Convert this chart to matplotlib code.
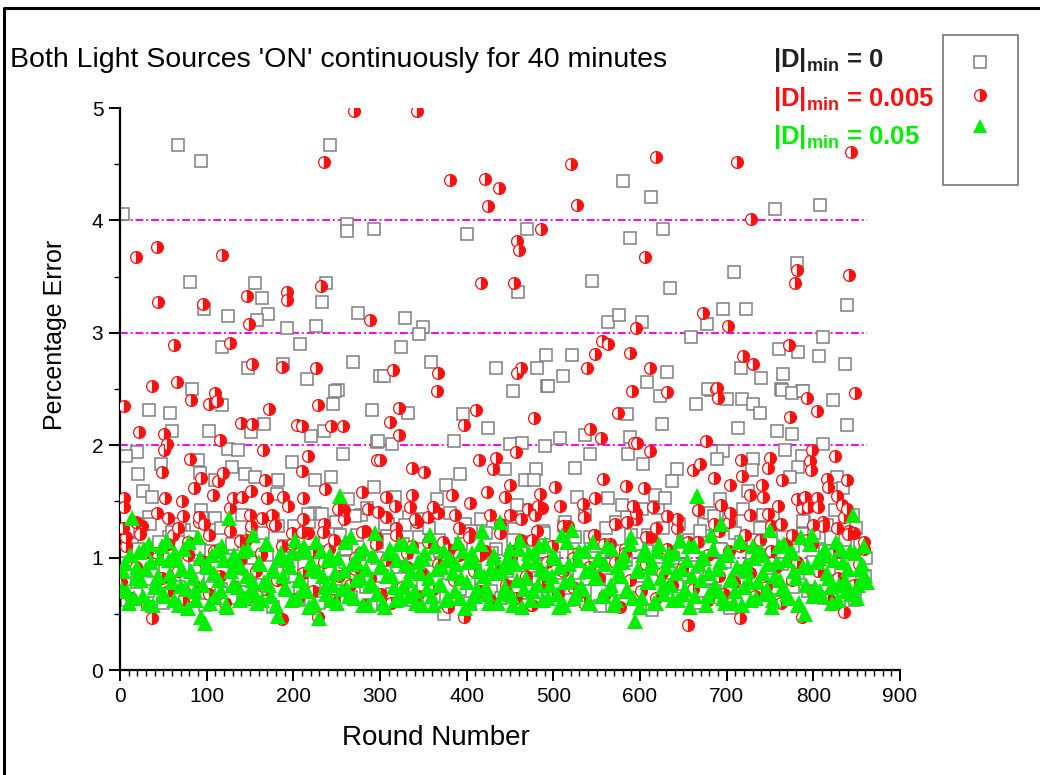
import numpy as np
import matplotlib
matplotlib.use("Agg")
import matplotlib.pyplot as plt
from matplotlib.lines import Line2D
from matplotlib.patches import Rectangle

plt.rcParams['font.family'] = ['Liberation Sans', 'DejaVu Sans']
plt.rcParams['mathtext.fontset'] = 'custom'
plt.rcParams['mathtext.rm'] = 'Liberation Sans'
plt.rcParams['mathtext.bf'] = 'Liberation Sans:bold'

# ---- data ----
# |D|min = 0 (grey squares): scattered points above the band (round, % error)
sq_x = [67, 93, 242, 4, 262, 262, 293, 81, 156, 164, 238, 233, 97, 125, 171, 158, 275, 193, 226, 118, 208,
        148, 188, 269, 216, 83, 251, 300,
        580, 400, 470, 589, 545, 459, 329, 350, 345, 563, 576, 324, 359, 305, 434, 492, 522, 481, 511, 453, 493,
        613, 756, 808, 626, 781, 708, 635, 696, 722, 677, 839, 602, 659, 811, 760, 782, 806, 836, 631, 717, 740,
        765, 608, 682, 763, 787,
        33, 58, 118, 103, 60, 166, 151, 248, 246, 291, 220, 235, 20, 7, 125, 136, 198, 257, 297, 21, 47, 90, 92,
        110, 129, 144, 156, 182, 225, 243, 27, 37, 181, 217, 233, 263, 271, 293, 60, 35, 95,
        494, 332, 396, 425, 585, 298, 314, 385, 450, 464, 490, 508, 537, 589, 444, 480, 525, 542, 586, 392, 376,
        467, 478, 527, 563, 579, 458, 366, 317, 306, 329,
        623, 665, 678, 700, 718, 730, 738, 764, 775, 788, 823, 625, 713, 758, 775, 839, 811, 696, 689, 730, 767,
        787, 603, 643, 637, 729, 782, 827, 834, 773, 617, 629, 602, 692, 725, 719, 742, 788, 816, 846, 685, 703, 738]
sq_y = [4.67, 4.53, 4.67, 4.06, 3.97, 3.91, 3.92, 3.45, 3.44, 3.31, 3.44, 3.27, 3.21, 3.15, 3.17, 3.11, 3.18,
        3.04, 3.06, 2.87, 2.90, 2.69, 2.72, 2.74, 2.59, 2.50, 2.49, 2.62,
        4.35, 3.88, 3.92, 3.84, 3.46, 3.36, 3.13, 3.05, 2.99, 3.10, 3.16, 2.87, 2.74, 2.62, 2.69, 2.80, 2.80,
        2.69, 2.62, 2.48, 2.53,
        4.21, 4.10, 4.14, 3.92, 3.62, 3.54, 3.40, 3.21, 3.21, 3.08, 3.25, 3.10, 2.96, 2.96, 2.86, 2.83, 2.79,
        2.72, 2.65, 2.69, 2.60, 2.63, 2.56, 2.49, 2.50, 2.48,
        2.31, 2.29, 2.36, 2.13, 2.13, 2.19, 2.12, 2.48, 2.37, 2.31, 2.08, 2.13, 1.94, 1.90, 1.97, 1.96, 1.85,
        1.92, 2.03, 1.74, 1.83, 1.87, 1.75, 1.69, 1.81, 1.74, 1.72, 1.69, 1.69, 1.72, 1.59, 1.54, 1.57, 1.39,
        1.39, 1.52, 1.37, 1.63, 1.23, 1.30, 1.35,
        2.53, 2.29, 2.28, 2.15, 2.28, 2.04, 2.01, 2.04, 2.01, 2.02, 1.99, 2.06, 2.09, 2.07, 1.79, 1.79, 1.80,
        1.92, 1.92, 1.74, 1.65, 1.69, 1.69, 1.54, 1.53, 1.47, 1.47, 1.52, 1.54, 1.30, 1.29,
        2.44, 2.37, 2.50, 2.41, 2.41, 2.37, 2.29, 2.49, 2.46, 2.48, 2.40, 2.19, 2.15, 2.13, 2.10, 2.18, 2.01,
        1.95, 1.88, 1.88, 1.96, 1.90, 1.83, 1.79, 1.68, 1.78, 1.81, 1.72, 1.62, 1.72, 1.56, 1.53, 1.43, 1.52,
        1.59, 1.43, 1.38, 1.33, 1.29, 1.38, 1.37, 1.35, 1.26]
# grey squares inside the dense band, every 6th round from round 2
sq_band = [0.95, 0.62, 1.12, 0.78, 1.30, 0.70, 0.88, 1.05, 0.60, 1.18, 0.82, 0.74,
           1.25, 0.66, 0.92, 1.08, 0.58, 0.84, 1.35, 0.72, 0.98, 0.64, 1.15, 0.80,
           0.90, 1.22, 0.68, 0.76, 1.02, 0.56, 1.28, 0.86, 0.73, 1.10, 0.62, 0.94,
           1.32, 0.78, 0.60, 1.06, 0.88, 0.70, 1.20, 0.96, 0.65, 0.82, 1.38, 0.74,
           0.58, 1.00, 0.84, 1.26, 0.68, 0.92, 1.12, 0.62, 0.80, 1.34, 0.76, 0.98,
           0.66, 1.16, 0.50, 0.86, 1.04, 0.72, 1.30, 0.60, 0.94, 0.78, 1.22, 0.70,
           1.08, 0.64, 0.88, 1.36, 0.74, 0.96, 0.58, 1.14, 0.82, 1.24, 0.68, 0.90,
           0.76, 1.28, 0.62, 1.02, 0.86, 0.70, 1.18, 0.94, 0.57, 1.10, 0.80, 1.32,
           0.72, 0.98, 1.20, 0.64, 0.84, 1.06, 0.53, 0.90, 1.26, 0.76, 1.00, 0.66,
           1.14, 0.74, 0.92, 0.60, 1.30, 0.82, 0.70, 1.08, 0.96, 0.55, 1.22, 0.78,
           0.88, 1.16, 0.68, 1.02, 0.80, 1.34, 0.62, 0.94, 1.10, 0.74, 0.86, 1.24,
           0.70, 0.96, 1.18, 0.64, 0.90, 1.06, 0.60, 1.28, 0.78, 0.62, 1.12, 0.84]
# grey squares on the upper fringe of the band, every 12th round from round 9
sq_fringe = [1.24, 1.08, 1.36, 1.14, 1.02, 1.30, 1.18, 1.42, 1.06, 1.26, 1.12, 1.38,
             1.00, 1.22, 1.34, 1.10, 1.28, 1.04, 1.40, 1.16, 1.32, 1.08, 1.20, 1.44,
             1.14, 1.30, 1.02, 1.36, 1.18, 1.26, 1.06, 1.40, 1.12, 1.24, 1.34, 1.04,
             1.28, 1.16, 1.42, 1.08, 1.22, 1.00, 1.32, 1.18, 1.38, 1.10, 1.26, 1.06,
             1.36, 1.12, 1.20, 1.44, 1.02, 1.30, 1.16, 1.24, 1.40, 1.08, 1.34, 1.14,
             1.04, 1.28, 1.38, 1.18, 1.10, 1.32, 1.22, 1.06, 1.42, 1.16, 1.26, 1.00]

# |D|min = 0.005 (red half-filled circles)
ci_x = [270, 235, 18, 43, 118, 44, 96, 146, 193, 193, 232, 149, 288, 62, 127, 152, 187, 226, 37, 66, 110,
        343, 520, 381, 421, 437, 425, 527, 486, 458, 460, 416, 455, 595, 556, 563, 548, 588, 315, 367, 366, 463,
        458, 539, 591,
        618, 712, 843, 728, 606, 781, 779, 841, 673, 702, 772, 719, 730, 612, 631, 688, 848,
        5, 82, 103, 112, 172, 228, 22, 51, 54, 51, 140, 152, 204, 210, 243, 257, 115, 165, 81, 217, 297, 48, 93,
        119, 113, 210, 167, 85, 107, 151, 237, 279, 5, 5, 52, 72, 130, 141, 170, 188, 194, 211, 252, 286, 55, 73,
        97, 150, 164, 179, 210, 234, 279, 3, 23,
        322, 312, 322, 411, 397, 478, 575, 542, 555, 593, 300, 337, 351, 414, 434, 430, 457, 450, 423, 444, 502,
        485, 557, 584, 307, 337, 383, 404, 361, 386, 450, 482, 534, 548, 508, 298, 317, 335, 340, 585, 592, 471, 479,
        689, 690, 793, 804, 773, 597, 676, 612, 798, 825, 717, 750, 748, 796, 797, 669, 661, 685, 704, 718, 764,
        741, 727, 742, 816, 817, 839, 827, 804, 790, 605, 615, 631, 667, 693, 704, 748, 759, 781, 794, 805, 833,
        839, 800, 827, 840]
ci_y = [4.97, 4.52, 3.67, 3.76, 3.69, 3.27, 3.26, 3.33, 3.36, 3.29, 3.42, 3.08, 3.11, 2.89, 2.91, 2.72, 2.70,
        2.69, 2.53, 2.56, 2.46,
        4.97, 4.50, 4.36, 4.37, 4.29, 4.13, 4.14, 3.92, 3.82, 3.74, 3.44, 3.44, 3.04, 2.93, 2.90, 2.81, 2.82,
        2.67, 2.64, 2.48, 2.69, 2.64, 2.69, 2.48,
        4.56, 4.52, 4.61, 4.01, 3.67, 3.56, 3.44, 3.51, 3.18, 3.06, 2.89, 2.79, 2.72, 2.69, 2.47, 2.50, 2.46,
        2.35, 2.40, 2.37, 2.39, 2.32, 2.36, 2.12, 2.10, 2.01, 1.96, 2.20, 2.19, 2.18, 2.17, 2.17, 2.17, 2.05,
        1.96, 1.88, 1.90, 1.87, 1.76, 1.71, 1.75, 1.68, 1.77, 1.69, 1.62, 1.56, 1.59, 1.61, 1.58, 1.53, 1.45,
        1.53, 1.50, 1.53, 1.54, 1.53, 1.54, 1.46, 1.53, 1.43, 1.43, 1.35, 1.37, 1.30, 1.38, 1.35, 1.29, 1.23,
        1.23, 1.23, 1.26, 1.21,
        2.33, 2.21, 2.09, 2.31, 2.18, 2.24, 2.29, 2.14, 2.06, 2.02, 1.87, 1.80, 1.76, 1.87, 1.89, 1.79, 1.94,
        1.65, 1.58, 1.54, 1.63, 1.57, 1.70, 1.64, 1.54, 1.56, 1.56, 1.49, 1.45, 1.38, 1.38, 1.46, 1.48, 1.53,
        1.46, 1.41, 1.46, 1.45, 1.34, 1.32, 1.46, 1.43, 1.38,
        2.51, 2.42, 2.42, 2.30, 2.25, 2.02, 2.04, 1.95, 1.96, 1.90, 1.87, 1.89, 1.80, 1.86, 1.78, 1.83, 1.78,
        1.71, 1.65, 1.73, 1.69, 1.65, 1.56, 1.54, 1.70, 1.63, 1.69, 1.55, 1.53, 1.54, 1.62, 1.45, 1.37, 1.42,
        1.47, 1.40, 1.39, 1.46, 1.52, 1.45, 1.45, 1.47, 1.43, 1.29, 1.26, 1.21]
# red circles inside the dense band, every 6th round from round 1
ci_band = [0.78, 1.10, 0.64, 0.92, 1.28, 0.58, 0.46, 1.04, 0.82, 0.70, 1.20, 0.88,
           0.62, 1.14, 0.76, 1.32, 0.96, 0.68, 1.06, 0.84, 0.60, 1.24, 0.74, 0.98,
           1.16, 0.66, 0.88, 1.02, 0.72, 1.30, 0.80, 0.45, 0.94, 1.12, 0.64, 0.86,
           1.22, 0.70, 0.47, 0.96, 1.08, 0.62, 0.84, 1.34, 0.76, 0.90, 1.04, 0.58,
           0.82, 1.18, 0.68, 0.98, 0.60, 1.26, 0.74, 0.92, 1.10, 0.66, 0.86, 1.36,
           0.72, 0.94, 1.14, 0.56, 0.80, 1.02, 0.47, 1.22, 0.88, 0.70, 1.06, 0.62,
           0.90, 1.30, 0.76, 1.00, 0.64, 1.16, 0.84, 0.58, 1.24, 0.78, 0.96, 1.10,
           0.68, 0.88, 1.28, 0.74, 1.04, 0.60, 0.92, 1.20, 0.82, 0.66, 1.12, 0.96,
           0.56, 1.08, 0.80, 1.34, 0.70, 0.94, 1.18, 0.64, 0.86, 1.02, 0.76, 1.26,
           0.90, 0.40, 0.72, 1.14, 0.98, 0.62, 1.30, 0.84, 0.68, 1.06, 0.78, 0.46,
           1.20, 0.86, 0.66, 1.02, 0.74, 1.28, 0.92, 0.60, 1.12, 0.80, 0.96, 0.47,
           1.16, 0.70, 0.88, 1.32, 0.64, 1.04, 0.82, 0.52, 1.24, 0.76, 0.94, 1.08]
# red circles on the upper fringe of the band, every 12th round from round 7
ci_fringe = [1.18, 1.32, 1.05, 1.40, 1.12, 1.26, 1.02, 1.36, 1.20, 1.08, 1.44, 1.15,
             1.28, 1.04, 1.38, 1.10, 1.22, 1.34, 1.06, 1.30, 1.16, 1.42, 1.00, 1.24,
             1.12, 1.36, 1.20, 1.04, 1.32, 1.14, 1.40, 1.08, 1.26, 1.18, 1.02, 1.38,
             1.22, 1.06, 1.34, 1.16, 1.44, 1.10, 1.28, 1.00, 1.36, 1.20, 1.12, 1.30,
             1.04, 1.40, 1.18, 1.26, 1.08, 1.34, 1.14, 1.42, 1.02, 1.24, 1.32, 1.10,
             1.38, 1.16, 1.06, 1.30, 1.20, 1.44, 1.12, 1.28, 1.04, 1.36, 1.22, 1.14]

# |D|min = 0.05 (green triangles), every 4th round from round 2
tri_a = [0.72, 0.95, 0.60, 1.35, 0.82, 1.05, 0.66, 0.90, 1.12, 0.58, 0.78, 1.00,
         0.68, 1.15, 0.85, 0.62, 0.98, 0.75, 1.08, 0.55, 0.88, 0.70, 1.18, 0.47,
         0.42, 0.92, 1.02, 0.65, 0.80, 1.10, 0.58, 1.35, 0.76, 0.96, 0.62, 1.06,
         0.84, 0.70, 1.20, 0.60, 0.94, 0.78, 1.12, 0.66, 0.88, 0.48, 1.04, 0.74,
         0.98, 0.62, 1.16, 0.80, 0.70, 1.06, 0.56, 0.90, 1.14, 0.46, 0.84, 0.68,
         1.02, 0.76, 0.60, 1.55, 0.88, 0.72, 1.18, 0.64, 0.96, 0.82, 1.08, 0.58,
         0.78, 1.22, 0.68, 0.92, 0.56, 1.04, 0.84, 0.62, 1.12, 0.74, 0.94, 0.66,
         1.10, 0.60, 0.86, 1.00, 0.72, 1.20, 0.58, 0.90, 0.76, 1.06, 0.64, 0.98,
         0.70, 1.14, 0.82, 0.55, 0.96, 1.04, 0.66, 0.88, 1.24, 0.74, 0.60, 1.00,
         0.86, 1.32, 0.68, 0.92, 1.08, 0.58, 0.80, 1.16, 0.72, 0.96, 0.62, 1.04,
         0.76, 0.90, 1.12, 0.64, 0.84, 1.00, 0.56, 1.20, 0.78, 0.94, 1.25, 0.68,
         1.06, 0.72, 0.88, 0.60, 1.14, 0.82, 0.98, 0.66, 1.10, 0.76, 0.58, 0.92,
         0.84, 1.02, 0.70, 1.18, 0.44, 0.90, 0.64, 1.08, 0.78, 0.96, 0.60, 1.12,
         0.74, 0.92, 1.04, 0.62, 0.86, 1.16, 0.68, 0.98, 0.56, 1.10, 1.55, 0.80,
         1.00, 0.66, 1.20, 0.76, 0.90, 1.30, 0.60, 1.06, 0.82, 0.70, 1.14, 0.58,
         0.94, 0.78, 1.10, 0.64, 1.02, 0.86, 0.72, 1.25, 0.62, 0.96, 0.80, 1.12,
         0.68, 1.04, 0.88, 0.58, 1.18, 0.50, 0.92, 1.20, 0.74, 1.00, 0.66, 1.08,
         0.82, 0.60, 1.14, 0.76, 0.96, 0.70, 1.06, 1.38, 0.64, 0.90, 1.10, 0.78]
# green triangles, every 4th round from round 4
tri_b = [0.88, 0.70, 1.02, 0.64, 0.92, 0.80, 1.08, 0.60, 0.96, 0.74, 0.84, 1.10,
         0.66, 0.98, 0.78, 1.04, 0.58, 0.90, 0.72, 1.14, 0.82, 0.62, 1.00, 0.76,
         0.94, 0.60, 0.86, 1.06, 0.70, 0.98, 0.56, 0.88, 1.02, 0.74, 0.92, 0.64,
         1.08, 0.80, 0.68, 0.96, 0.62, 1.12, 0.76, 0.90, 0.58, 1.00, 0.84, 0.72,
         0.92, 1.04, 0.64, 0.82, 1.10, 0.70, 0.96, 0.60, 0.88, 1.06, 0.74, 0.98,
         0.62, 0.86, 1.00, 0.72, 1.14, 0.66, 0.94, 0.80, 1.04, 0.58, 0.90, 0.76,
         1.02, 0.68, 0.92, 0.60, 0.84, 1.08, 0.74, 0.98, 0.64, 1.12, 0.80, 0.88,
         0.70, 0.96, 0.58, 1.04, 0.82, 0.66, 1.10, 0.76, 0.92, 0.62, 1.00, 0.86,
         0.94, 0.64, 1.06, 0.78, 0.60, 0.98, 0.72, 1.12, 0.84, 0.68, 0.90, 1.02,
         0.60, 0.88, 0.74, 1.00, 0.66, 0.94, 1.08, 0.56, 0.82, 1.04, 0.70, 0.96,
         1.10, 0.62, 0.86, 0.76, 1.02, 0.68, 0.92, 0.58, 1.14, 0.80, 0.64, 0.98,
         0.74, 1.06, 0.60, 0.90, 0.82, 1.00, 0.66, 0.94, 0.72, 1.08, 0.62, 0.86,
         0.96, 0.70, 1.12, 0.64, 0.88, 0.56, 1.02, 0.78, 0.92, 0.60, 1.06, 0.82,
         0.68, 0.98, 0.76, 1.04, 0.62, 0.90, 0.72, 1.10, 0.84, 0.66, 0.94, 1.00,
         0.58, 0.86, 1.08, 0.70, 0.96, 0.64, 1.02, 0.80, 0.60, 0.92, 1.14, 0.74,
         0.88, 0.62, 1.00, 0.78, 1.06, 0.68, 0.94, 0.56, 0.84, 1.10, 0.72, 0.98,
         0.64, 1.04, 0.82, 0.60, 0.92, 0.76, 1.12, 0.66, 0.96, 0.70, 1.02, 0.86,
         0.74, 0.98, 0.62, 1.08, 0.80, 0.90, 0.68, 1.04, 0.76, 0.94, 0.84]

grid_levels = [1, 2, 3, 4]
legend_labels = ['0', '0.005', '0.05']

sq_band_x = np.arange(2, 2 + 6 * len(sq_band), 6)
sq_fringe_x = np.arange(9, 9 + 12 * len(sq_fringe), 12)
ci_band_x = np.arange(1, 1 + 6 * len(ci_band), 6)
ci_fringe_x = np.arange(7, 7 + 12 * len(ci_fringe), 12)
tri_a_x = np.arange(2, 2 + 4 * len(tri_a), 4)
tri_b_x = np.arange(4, 4 + 4 * len(tri_b), 4)

GREY = '#7f7f7f'
RED = '#ff1010'
GREEN = '#00ee00'

fig = plt.figure(figsize=(10.4, 7.75), dpi=100)
ax = fig.add_axes([120 / 1040, 1 - 670 / 775, 780 / 1040, 562 / 775])

ax.hlines(grid_levels, 0, 862, colors='#ff00ff', linewidth=1.4,
          linestyles=[(0, (4, 1.5, 1, 1.5))], zorder=1)

sq_kw = dict(linestyle='none', marker='s', markersize=8.2, markerfacecolor='white',
             markeredgecolor=GREY, markeredgewidth=1.1)
ax.plot(sq_band_x, sq_band, zorder=2, **sq_kw)
ax.plot(sq_fringe_x, sq_fringe, zorder=2, **sq_kw)
ax.plot(sq_x, sq_y, zorder=2, **sq_kw)

ci_kw = dict(linestyle='none', marker='o', markersize=8.5, fillstyle='right', markerfacecolor=RED,
             markerfacecoloralt='white', markeredgecolor=RED, markeredgewidth=0.9)
ax.plot(ci_band_x, ci_band, zorder=3, **ci_kw)
ax.plot(ci_fringe_x, ci_fringe, zorder=3, **ci_kw)
ax.plot(ci_x, ci_y, zorder=3, **ci_kw)

tri_kw = dict(linestyle='none', marker='^', markersize=11, color=GREEN, markeredgewidth=0)
ax.plot(tri_a_x, tri_a, zorder=4, **tri_kw)
ax.plot(tri_b_x, tri_b, zorder=4, **tri_kw)

ax.set_xlim(0, 900)
ax.set_ylim(0, 5)
ax.set_xticks(np.arange(0, 901, 100))
ax.set_xticks(np.arange(0, 901, 10), minor=True)
ax.set_yticks(np.arange(0, 6, 1))
ax.set_yticks(np.arange(0, 5.01, 0.5), minor=True)
for s in ['top', 'right']:
    ax.spines[s].set_visible(False)
for s in ['left', 'bottom']:
    ax.spines[s].set_linewidth(1.6)
ax.tick_params(which='major', direction='out', length=8, width=1.4, labelsize=15, pad=4)
ax.tick_params(which='minor', direction='out', length=4, width=1.0)

fig.text(10 / 1040, 1 - 60 / 775, "Both Light Sources 'ON' continuously for 40 minutes",
         fontsize=20.5, va='center', ha='left')
fig.text(436 / 1040, 1 - 738 / 775, 'Round Number', fontsize=20, ha='center', va='center')
fig.text(55 / 1040, 1 - 335 / 775, 'Percentage Error', fontsize=18, ha='center', va='center',
         rotation=90)

# legend text on the left of the box
colors = ['#222222', RED, GREEN]
ys = [60, 99, 137]
for lab, c, y in zip(legend_labels, colors, ys):
    fig.text(773 / 1040, 1 - y / 775, r'$\mathbf{|D|_{min}}$' + ' = ' + lab, color=c,
             fontsize=18.5, fontweight='bold', va='center', ha='left')

# legend box with markers
fig.add_artist(Rectangle((943 / 1040, 1 - 185 / 775), 75 / 1040, 150 / 775,
                         transform=fig.transFigure, fill=False, edgecolor='#777777', linewidth=1.2))
mx = 980 / 1040
fig.add_artist(Line2D([mx], [1 - 62 / 775], transform=fig.transFigure, **sq_kw))
fig.add_artist(Line2D([mx], [1 - 95 / 775], transform=fig.transFigure, **ci_kw))
fig.add_artist(Line2D([mx], [1 - 126 / 775], transform=fig.transFigure, linestyle='none',
                      marker='^', markersize=10, color=GREEN, markeredgewidth=0))

# page frame (top and left edges)
fig.add_artist(Line2D([4 / 1040, 4 / 1040, 1.0], [0.0, 1 - 8 / 775, 1 - 8 / 775],
                      transform=fig.transFigure, color='black', linewidth=2.2))

fig.savefig('out.png', dpi=100)
